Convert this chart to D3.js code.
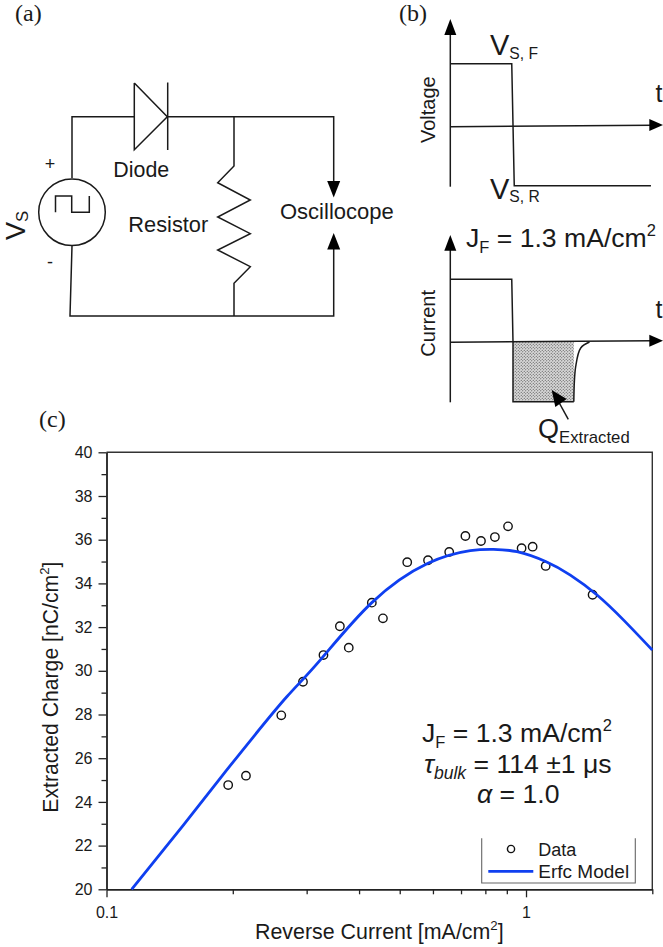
<!DOCTYPE html>
<html>
<head>
<meta charset="utf-8">
<script src="https://cdnjs.cloudflare.com/ajax/libs/d3/7.8.5/d3.min.js"></script>
<style>
  html, body { margin: 0; padding: 0; background: #fff; }
  svg { display: block; }
  text { font-family: "Liberation Sans", Arial, sans-serif; fill: #1a1a1a; }
</style>
</head>
<body>
<svg id="fig" width="663" height="947"></svg>
<script>
// panel (c) values
const dataCurrent = [0.195, 0.215, 0.261, 0.294, 0.329, 0.360, 0.378, 0.429, 0.456, 0.521,
  0.584, 0.656, 0.717, 0.781, 0.843, 0.906, 0.976, 1.037, 1.114, 1.441];
const dataCharge = [24.77, 25.20, 27.96, 29.50, 30.72, 32.04, 31.06, 33.12, 32.40, 34.97,
  35.06, 35.44, 36.17, 35.94, 36.12, 36.61, 35.61, 35.68, 34.80, 33.48];

const modelCurrent = [0.1148, 0.1525, 0.1866, 0.224, 0.269, 0.3231, 0.429, 0.5839,
  0.7365, 0.8366, 0.9517, 1.1137, 1.2755, 1.477, 1.709, 2.0];
const modelCharge = [20, 22.94, 25.08, 26.98, 28.81, 30.49, 33.12, 34.92,
  35.5, 35.56, 35.45, 35.0, 34.38, 33.47, 32.32, 30.95];

const yMajor = [20, 22, 24, 26, 28, 30, 32, 34, 36, 38, 40];
const yMinor = [21, 23, 25, 27, 29, 31, 33, 35, 37, 39];
const xMajor = [0.1, 1];
const xMinor = [0.2, 0.3, 0.4, 0.5, 0.6, 0.7, 0.8, 0.9, 2];

// panel (b) waveforms, time in units of the switching time, level in units of the reverse level
const voltageTime = [0, 0.98, 1.02, 3.2];
const voltageLevel = [1, 1, -1, -1];
const currentTime = [0, 0.98, 1, 1, 1.97];
const currentLevel = [1.05, 1.05, 0, -1, -1];
const tailTime = [1.97, 2.0, 2.08, 2.22];
const tailLevel = [-1, -0.41, -0.1, 0];

const svg = d3.select("#fig");
const INK = "#1a1a1a";

// text with sub / superscript parts: [string, kind]
function label(g, x, y, parts, size, opts) {
  opts = opts || {};
  const t = g.append("text").attr("x", x).attr("y", y).attr("font-size", size);
  if (opts.anchor) t.attr("text-anchor", opts.anchor);
  if (opts.family) t.style("font-family", opts.family);
  if (opts.rotate) t.attr("transform", `rotate(-90 ${x} ${y})`);
  let shift = 0;
  parts.forEach(p => {
    const kind = p[1] || "";
    let target = 0;
    const s = t.append("tspan").text(p[0]);
    if (kind.includes("sub")) { target = size * (opts.subDrop || 0.22); s.attr("font-size", size * (opts.subScale || 0.62)); }
    if (kind.includes("sup")) { target = -size * 0.42; s.attr("font-size", size * 0.62); }
    if (kind.includes("it")) s.attr("font-style", "italic");
    s.attr("dy", target - shift);
    shift = target;
  });
  return t;
}

function wire(g, pts, w) {
  g.append("path").attr("d", d3.line()(pts)).attr("fill", "none")
    .attr("stroke", INK).attr("stroke-width", w || 1.5).attr("stroke-linejoin", "miter");
}

function arrowHead(g, tip, base, half) {
  const dx = tip[0] - base[0], dy = tip[1] - base[1];
  const len = Math.hypot(dx, dy);
  const nx = -dy / len * half, ny = dx / len * half;
  g.append("path").attr("fill", "#000")
    .attr("d", d3.line()([tip, [base[0] + nx, base[1] + ny], [base[0] - nx, base[1] - ny]]) + "Z");
}

/* ---------- panel a ---------- */
const a = svg.append("g");
label(a, 15, 21, [["(a)"]], 24, { family: "Liberation Serif" });
wire(a, [[72, 178], [72, 116.7], [134.3, 116.7]]);
wire(a, [[134.3, 83], [134.3, 149.7], [167.3, 116.7], [134.3, 83]]);
wire(a, [[167.7, 82.5], [167.7, 150]]);
wire(a, [[167.7, 116.7], [333.7, 116.7], [333.7, 185]]);
arrowHead(a, [333.7, 197.5], [333.7, 181], 6.5);
wire(a, [[234, 116.7], [234, 166], [217.7, 182.7], [250.3, 200], [217.7, 217], [250.3, 233.7],
  [217.7, 250], [250.3, 266.7], [234, 283.3], [234, 316]]);
wire(a, [[72, 246], [70, 316], [333.7, 316], [333.7, 245]]);
arrowHead(a, [333.7, 233], [333.7, 249.5], 6.5);
a.append("circle").attr("cx", 72).attr("cy", 212.3).attr("r", 33.3)
  .attr("fill", "none").attr("stroke", INK).attr("stroke-width", 1.5);
wire(a, [[55.5, 212.3], [55.5, 196], [71.7, 196], [71.7, 212.3], [89.3, 212.3], [89.3, 196]]);
label(a, 50, 170, [["+"]], 18, { anchor: "middle" });
label(a, 50, 268, [["-"]], 18, { anchor: "middle" });
label(a, 113.3, 176.7, [["Diode"]], 21.4);
label(a, 128.3, 231.7, [["Resistor"]], 21.8);
label(a, 280, 219.3, [["Oscillocope"]], 22);
label(a, 25, 240, [["V"], ["S", "sub"]], 27, { rotate: true, subDrop: 0.12, subScale: 0.62 });

/* ---------- panel b ---------- */
const b = svg.append("g");
label(b, 399, 21, [["(b)"]], 24, { family: "Liberation Serif" });

const tx = d3.scaleLinear().domain([0, 1]).range([450.3, 513]);
const vy = d3.scaleLinear().domain([-1, 1]).range([185.7, 63.7]);
const iy = d3.scaleLinear().domain([-1, 0]).range([401.7, 342]);
const traceLine = (times, levels, y) => d3.line().x(i => tx(times[i])).y(i => y(levels[i]))(d3.range(times.length));

// voltage
wire(b, [[450.3, 186.7], [450.3, 30]]);
arrowHead(b, [450.3, 19], [450.3, 35], 6);
wire(b, [[450.3, 126.7], [652, 125.2]]);
arrowHead(b, [663, 125], [649.3, 125], 6);
b.append("path").attr("d", traceLine(voltageTime, voltageLevel, vy)).attr("fill", "none")
  .attr("stroke", INK).attr("stroke-width", 1.5);
label(b, 490, 55, [["V"], ["S, F", "sub"]], 29, { subScale: 0.54, subDrop: 0.14 });
label(b, 490, 199, [["V"], ["S, R", "sub"]], 29, { subScale: 0.54, subDrop: 0.1 });
label(b, 655.5, 102, [["t"]], 25);
label(b, 435, 143, [["Voltage"]], 20, { rotate: true });

// current
const dots = svg.append("defs").append("pattern").attr("id", "dots")
  .attr("patternUnits", "userSpaceOnUse").attr("width", 3).attr("height", 3);
dots.append("rect").attr("width", 3).attr("height", 3).attr("fill", "#d8d8d8");
dots.append("circle").attr("cx", 0.75).attr("cy", 0.75).attr("r", 0.55).attr("fill", "#444");
dots.append("circle").attr("cx", 2.25).attr("cy", 2.25).attr("r", 0.55).attr("fill", "#444");
b.append("rect").attr("x", tx(1)).attr("y", iy(0)).attr("width", tx(1.97) - tx(1))
  .attr("height", iy(-1) - iy(0)).attr("fill", "url(#dots)");

wire(b, [[450.3, 402.3], [450.3, 245]]);
arrowHead(b, [450.3, 235], [450.3, 250.7], 6);
wire(b, [[450.3, 342.3], [652, 340.8]]);
arrowHead(b, [663, 340.7], [649.3, 340.7], 6);
b.append("path").attr("d", traceLine(currentTime, currentLevel, iy)).attr("fill", "none")
  .attr("stroke", INK).attr("stroke-width", 1.5);
b.append("path").attr("fill", "none").attr("stroke", INK).attr("stroke-width", 1.5)
  .attr("d", d3.line().curve(d3.curveCatmullRom).x(i => tx(tailTime[i])).y(i => iy(tailLevel[i]))(d3.range(tailTime.length)));
wire(b, [[568.3, 419.3], [556, 397]]);
arrowHead(b, [551.7, 390], [561, 403], 7);
label(b, 466, 246.7, [["J"], ["F", "sub"], [" = 1.3 mA/cm"], ["2", "sup"]], 26.6);
label(b, 538, 438, [["Q"], ["Extracted", "sub"]], 27, { subScale: 0.62, subDrop: 0.17 });
label(b, 655.5, 318, [["t"]], 25);
label(b, 435, 356.7, [["Current"]], 20, { rotate: true });

/* ---------- panel c ---------- */
const c = svg.append("g");
label(c, 39, 427, [["(c)"]], 24, { family: "Liberation Serif" });

const x = d3.scaleLog().domain([0.1, 2]).range([106.5, 652.3]);
const y = d3.scaleLinear().domain([20, 40]).range([889.3, 452.3]);

c.append("path").attr("d", d3.line()([[x.range()[0], y(40)], [x.range()[1], y(40)], [x.range()[1], y(20)]]))
  .attr("fill", "none").attr("stroke", "#333").attr("stroke-width", 1.4);

function styleAxis(g, size) {
  g.select(".domain").attr("stroke", "#222").attr("stroke-width", 1.4);
  g.selectAll(".tick line").attr("stroke", "#222").attr("stroke-width", 1.3);
  g.selectAll(".tick text").attr("fill", "#222").attr("font-size", size)
    .style("font-family", '"Liberation Sans", Arial, sans-serif');
}

const yAxis = c.append("g").attr("transform", `translate(${x.range()[0]},0)`)
  .call(d3.axisLeft(y).tickValues(yMajor).tickSize(8).tickPadding(6).tickSizeOuter(0));
styleAxis(yAxis, 16);
c.append("g").attr("transform", `translate(${x.range()[0]},0)`)
  .call(d3.axisLeft(y).tickValues(yMinor).tickSize(5).tickFormat("").tickSizeOuter(0))
  .call(g => styleAxis(g, 16));

const xAxis = c.append("g").attr("transform", `translate(0,${y(20)})`)
  .call(d3.axisBottom(x).tickValues(xMajor).tickFormat(d => d).tickSize(8).tickPadding(9).tickSizeOuter(0));
styleAxis(xAxis, 16);
c.append("g").attr("transform", `translate(0,${y(20)})`)
  .call(d3.axisBottom(x).tickValues(xMinor).tickSize(5).tickFormat("").tickSizeOuter(0))
  .call(g => styleAxis(g, 16));

c.selectAll("circle.pt").data(d3.range(dataCurrent.length)).join("circle").attr("class", "pt")
  .attr("cx", i => x(dataCurrent[i])).attr("cy", i => y(dataCharge[i])).attr("r", 4.2)
  .attr("fill", "none").attr("stroke", "#111").attr("stroke-width", 1.4);

c.append("path").attr("fill", "none").attr("stroke", "#0f3ff0").attr("stroke-width", 2.8)
  .attr("d", d3.line().curve(d3.curveNatural).x(i => x(modelCurrent[i])).y(i => y(modelCharge[i]))(d3.range(modelCurrent.length)));

label(c, 255, 939, [["Reverse Current [mA/cm"], ["2", "sup"], ["]"]], 21.4);
label(c, 58, 812.7, [["Extracted Charge [nC/cm"], ["2", "sup"], ["]"]], 21.2, { rotate: true });

label(c, 422, 741.7, [["J"], ["F", "sub"], [" = 1.3 mA/cm"], ["2", "sup"]], 26.6);
label(c, 424, 772.7, [["τ", "it"], ["bulk", "sub it"], [" = 114 ±1 μs"]], 26.6, { subScale: 0.66 });
label(c, 477, 803, [["α", "it"], [" = 1.0"]], 26.6);

// legend, open at the top
c.append("path").attr("d", d3.line()([[481.7, 838.3], [481.7, 883], [635.3, 883], [635.3, 838.3]]))
  .attr("fill", "none").attr("stroke", "#666").attr("stroke-width", 1.1);
c.append("circle").attr("cx", 511).attr("cy", 849).attr("r", 3.6)
  .attr("fill", "none").attr("stroke", "#111").attr("stroke-width", 1.4);
label(c, 538.3, 855.7, [["Data"]], 18);
c.append("path").attr("d", d3.line()([[488.3, 871.3], [533.3, 871.3]]))
  .attr("stroke", "#0f3ff0").attr("stroke-width", 2.8);
label(c, 538.3, 878.3, [["Erfc Model"]], 19);
</script>
</body>
</html>
